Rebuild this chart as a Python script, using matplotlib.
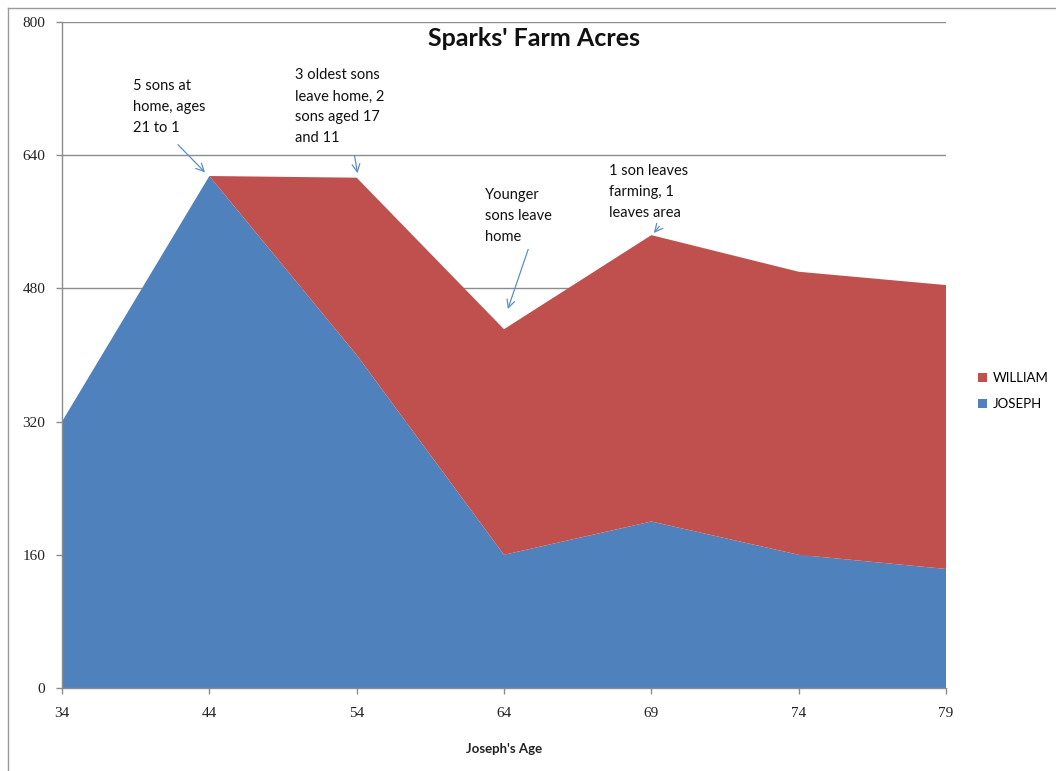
import matplotlib.pyplot as plt
import numpy as np
from matplotlib.patches import Patch
from matplotlib.lines import Line2D

# Joseph's age at each survey and acres held by each farmer
ages = ['34', '44', '54', '64', '69', '74', '79']
joseph = [320, 615, 400, 160, 200, 160, 143]
william = [0, 0, 213, 271, 344, 340, 341]

blue = '#4F81BD'
red = '#C0504D'
grid_col = '#8C8C8C'

fig = plt.figure(figsize=(10.56, 7.71), dpi=100)
ax = fig.add_axes([62 / 1056, 83 / 771, 884 / 1056, 666 / 771])

x = np.arange(len(ages))
ax.stackplot(x, joseph, william, colors=[blue, red], zorder=2)

ax.set_xlim(0, len(ages) - 1)
ax.set_ylim(0, 800)
ax.set_yticks(np.arange(0, 801, 160))
ax.set_xticks(x)
ax.set_xticklabels(ages)
ax.yaxis.grid(True, color=grid_col, linewidth=1.0, zorder=0)
ax.set_axisbelow(True)

for s in ['top', 'right']:
    ax.spines[s].set_visible(False)
for s in ['left', 'bottom']:
    ax.spines[s].set_color(grid_col)
    ax.spines[s].set_linewidth(1.0)
ax.spines['bottom'].set_zorder(3)

ax.tick_params(axis='both', colors=grid_col, length=4, width=1)
ax.tick_params(axis='y', pad=8)
ax.tick_params(axis='x', pad=10)
for lbl in ax.get_xticklabels() + ax.get_yticklabels():
    lbl.set_color('#222222')
    lbl.set_fontfamily('Liberation Serif')
    lbl.set_fontsize(11)

ax.set_xlabel("Joseph's Age", fontsize=9.5, fontweight='bold',
              family='Lato', labelpad=16, color='#222222')

# title is centred over the whole chart, legend included
fig.text(534 / 1056, 1 - 38 / 771, "Sparks' Farm Acres",
         ha='center', va='center', fontsize=18, fontweight='bold',
         family='Lato', color='#111111')

# notes with arrows pointing at the turning points
notes = [
    ('5 sons at\nhome, ages\n21 to 1', (0.482, 698), (0.984, 617), (0.774, 655)),
    ('3 oldest sons\nleave home, 2\nsons aged 17\nand 11', (1.581, 698), (2.009, 615), (1.982, 643)),
    ('Younger\nsons leave\nhome', (2.871, 567), (3.020, 452), (3.170, 530)),
    ('1 son leaves\nfarming, 1\nleaves area', (3.713, 596), (4.005, 544), (4.066, 557)),
]
for txt, txt_pos, tip, tail in notes:
    ax.text(txt_pos[0], txt_pos[1], txt, ha='left', va='center',
            multialignment='left', fontsize=10.5, family='Lato',
            linespacing=1.64, color='#111111', zorder=5)
    ax.annotate('', xy=tip, xytext=tail,
                arrowprops=dict(arrowstyle='->', color='#5B8FC7',
                                lw=0.9, mutation_scale=14), zorder=5)

handles = [Patch(facecolor=red, label='WILLIAM'),
           Patch(facecolor=blue, label='JOSEPH')]
fig.legend(handles=handles, loc='center left',
           bbox_to_anchor=(978 / 1056, 1 - 391 / 771),
           frameon=False, borderpad=0, borderaxespad=0,
           handlelength=0.7, handleheight=0.7, handletextpad=0.4,
           labelspacing=1.05, prop={'family': 'Lato', 'size': 9.5})

# outer chart border
fig.add_artist(Line2D([8 / 1056, 8 / 1056], [0, 1 - 8 / 771],
                      transform=fig.transFigure, color='#9A9A9A', lw=1))
fig.add_artist(Line2D([8 / 1056, 1], [1 - 8 / 771, 1 - 8 / 771],
                      transform=fig.transFigure, color='#9A9A9A', lw=1))

fig.savefig('out.png', dpi=100)
